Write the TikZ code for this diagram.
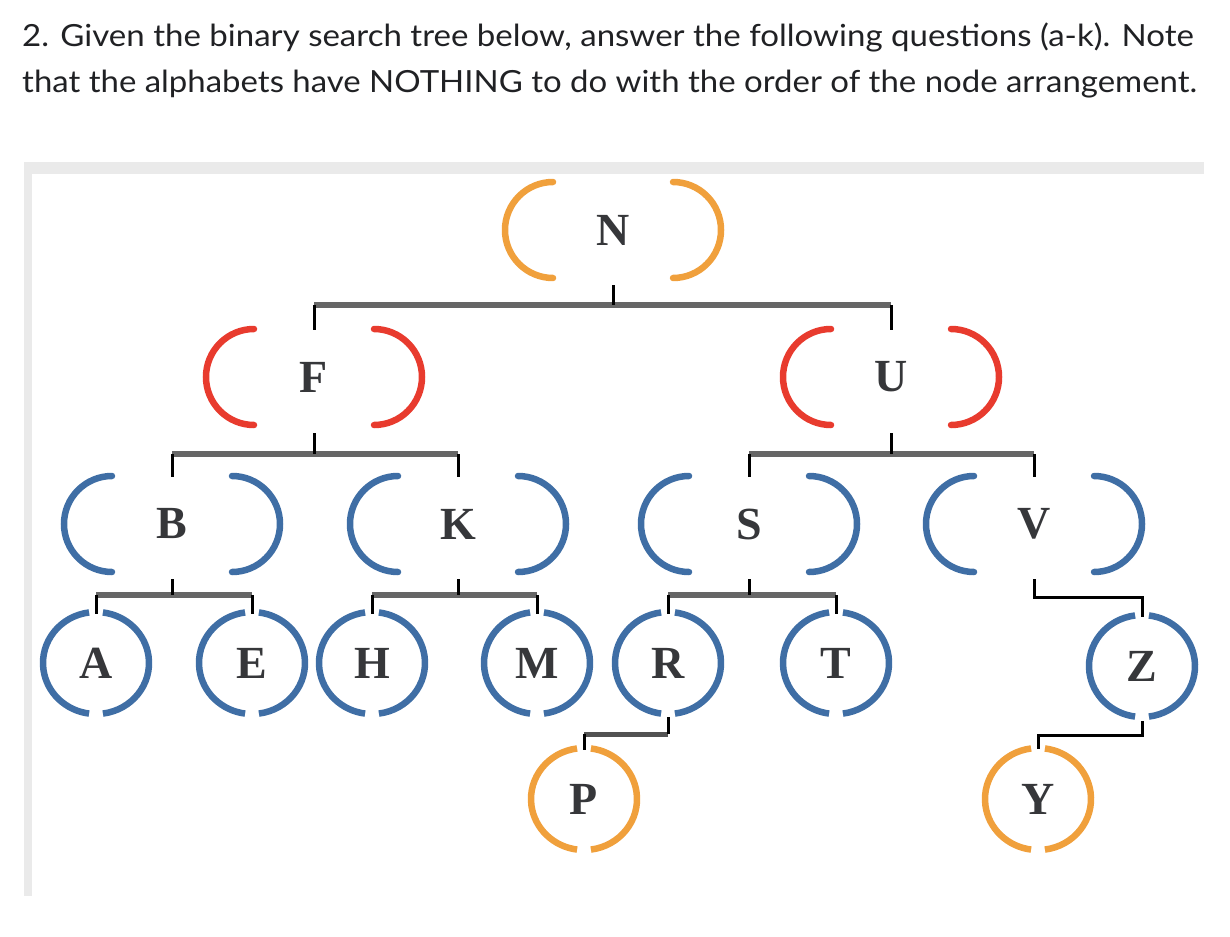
\documentclass[tikz,border=0pt]{standalone}
\usepackage{fontspec}
\setmainfont{Liberation Serif}
\newfontfamily\titlefont{Lato}
\usetikzlibrary{calc}
\definecolor{ora}{HTML}{F0A03C}
\definecolor{redc}{HTML}{E83B2E}
\definecolor{bluec}{HTML}{3F6EA5}
\definecolor{framegray}{HTML}{EAEAEA}
\definecolor{bargray}{HTML}{666666}
\definecolor{txt}{HTML}{202124}
\tikzset{
  lbl/.style={font=\fontsize{46}{46}\selectfont\bfseries, text=txt!90, inner sep=0pt, yshift=-2pt},
  arcline/.style={line width=6.5pt, line cap=round},
  leafline/.style={line width=6.5pt, line cap=butt},
  barline/.style={line width=6pt, draw=bargray},
  stub/.style={line width=3pt, draw=black},
  thinlink/.style={line width=3pt, draw=black},
  titletext/.style={anchor=base west, font=\titlefont\fontsize{30.5}{30.5}\selectfont, text=txt, inner sep=0pt}
}
\newcommand{\openarcs}[2]{%
  \draw[arcline,#2] ($(#1)+(-60,-48)$) arc[start angle=90,end angle=270,radius=48pt];
  \draw[arcline,#2] ($(#1)+(60,48)$) arc[start angle=-90,end angle=90,radius=48pt];}
\newcommand{\leafarcs}[2]{%
  \draw[leafline,#2,shift={(#1)}] (-82.5:53pt and 51pt) arc[start angle=-82.5,end angle=82.5,x radius=53pt,y radius=51pt];
  \draw[leafline,#2,shift={(#1)}] (97.5:53pt and 51pt) arc[start angle=97.5,end angle=262.5,x radius=53pt,y radius=51pt];}
\begin{document}
\begin{tikzpicture}[x=1pt,y=-1pt]
\useasboundingbox (0,0) rectangle (1230,936);
% frame
\fill[framegray] (24,162) rectangle (1204,174);
\fill[framegray] (24,162) rectangle (32,896);
% title
\node[titletext] (t1) at (22,47) {\scalebox{1.083}[1]{2. Given the binary search tree below, answer the following questions (a-k). Note}};
\node[titletext] (t2) at (22,93) {\scalebox{1.08}[1]{that the alphabets have NOTHING to do with the order of the node arrangement.}};
% nodes
\node[lbl] (N) at (613,228) {N};
\node[lbl] (F) at (314,375) {F};
\node[lbl] (U) at (891,375) {U};
\node[lbl] (B) at (172,522) {B};
\node[lbl] (K) at (458,522) {K};
\node[lbl] (S) at (749,522) {S};
\node[lbl] (V) at (1034,522) {V};
\node[lbl] (A) at (96,661) {A};
\node[lbl] (E) at (252,661) {E};
\node[lbl] (H) at (372,661) {H};
\node[lbl] (M) at (537,661) {M};
\node[lbl] (R) at (668,661) {R};
\node[lbl] (T) at (836,661) {T};
\node[lbl] (Z) at (1142,664) {Z};
\node[lbl] (P) at (584,797) {P};
\node[lbl] (Y) at (1038,797) {Y};
% rings
\openarcs{N}{ora}
\openarcs{F}{redc}
\openarcs{U}{redc}
\openarcs{B}{bluec}
\openarcs{K}{bluec}
\openarcs{S}{bluec}
\openarcs{V}{bluec}
\leafarcs{A}{bluec}
\leafarcs{E}{bluec}
\leafarcs{H}{bluec}
\leafarcs{M}{bluec}
\leafarcs{R}{bluec}
\leafarcs{T}{bluec}
\leafarcs{Z}{bluec}
\leafarcs{P}{ora}
\leafarcs{Y}{ora}
% connectors N
\coordinate (nb) at ($(N)+(0,75)$);
\draw[barline] (F |- nb) -- (U |- nb);
\draw[stub] ($(N)+(0,55)$) -- (nb);
\draw[stub] (F |- nb) -- ($(F)+(0,-47)$);
\draw[stub] (U |- nb) -- ($(U)+(0,-47)$);
% F
\coordinate (fb) at ($(F)+(0,77)$);
\draw[barline] (B |- fb) -- (K |- fb);
\draw[stub] ($(F)+(0,56)$) -- (fb);
\draw[stub] (B |- fb) -- ($(B)+(0,-47)$);
\draw[stub] (K |- fb) -- ($(K)+(0,-47)$);
% U
\coordinate (ub) at ($(U)+(0,77)$);
\draw[barline] (S |- ub) -- (V |- ub);
\draw[stub] ($(U)+(0,56)$) -- (ub);
\draw[stub] (S |- ub) -- ($(S)+(0,-47)$);
\draw[stub] (V |- ub) -- ($(V)+(0,-47)$);
% B
\coordinate (bb) at ($(B)+(0,71)$);
\draw[barline] (A |- bb) -- (E |- bb);
\draw[stub] ($(B)+(0,55)$) -- (bb);
\draw[stub] (A |- bb) -- ($(A)+(0,-49)$);
\draw[stub] (E |- bb) -- ($(E)+(0,-49)$);
% K
\coordinate (kb) at ($(K)+(0,71)$);
\draw[barline] (H |- kb) -- (M |- kb);
\draw[stub] ($(K)+(0,55)$) -- (kb);
\draw[stub] (H |- kb) -- ($(H)+(0,-49)$);
\draw[stub] (M |- kb) -- ($(M)+(0,-49)$);
% S
\coordinate (sb) at ($(S)+(0,71)$);
\draw[barline] (R |- sb) -- (T |- sb);
\draw[stub] ($(S)+(0,55)$) -- (sb);
\draw[stub] (R |- sb) -- ($(R)+(0,-49)$);
\draw[stub] (T |- sb) -- ($(T)+(0,-49)$);
% V -> Z
\draw[thinlink] ($(V)+(0,55)$) |- ($(Z)+(0,-69)$) -- ($(Z)+(0,-49)$);
% R -> P
\coordinate (rb) at ($(R)+(0,71)$);
\draw[barline, line width=5pt, draw=bargray!80!black] (P |- rb) -- (rb);
\draw[stub] ($(R)+(0,54)$) -- (rb);
\draw[stub] (P |- rb) -- ($(P)+(0,-49)$);
% Z -> Y
\draw[thinlink] ($(Z)+(0,55)$) |- ($(Y)+(0,-64)$) -- ($(Y)+(0,-50)$);
\end{tikzpicture}
\end{document}
